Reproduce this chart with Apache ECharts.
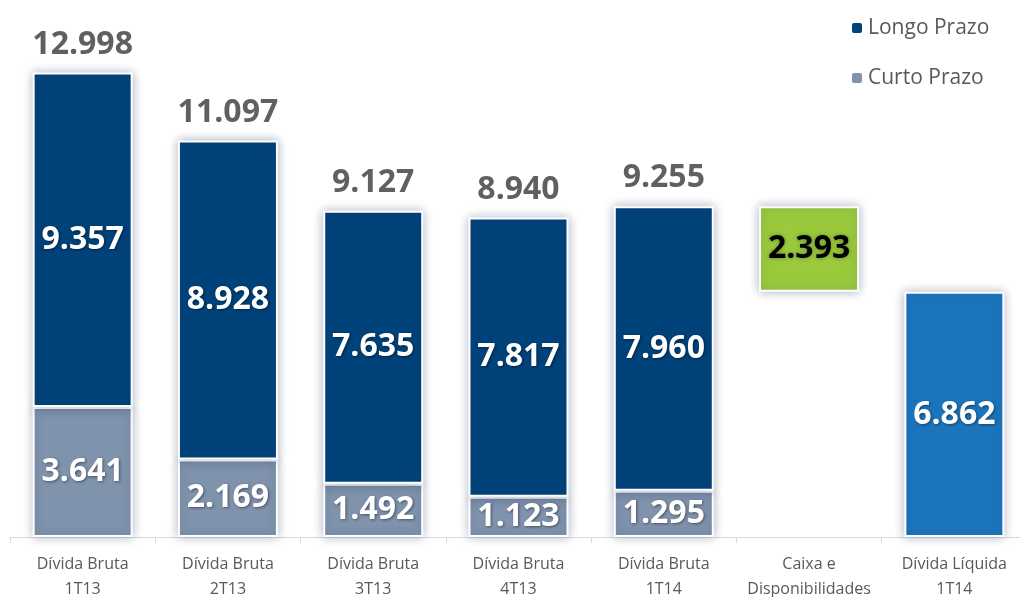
<!DOCTYPE html>
<html>
<head>
<meta charset="utf-8">
<script src="https://cdn.jsdelivr.net/npm/echarts@6/dist/echarts.min.js"></script>
<style>html,body{margin:0;padding:0;background:#fff}#c{width:1020px;height:597px}</style>
</head>
<body>
<div id="c"></div>
<script>
var categories = ['Dívida Bruta\n1T13','Dívida Bruta\n2T13','Dívida Bruta\n3T13','Dívida Bruta\n4T13','Dívida Bruta\n1T14','Caixa e\nDisponibilidades','Dívida Líquida\n1T14'];
var curtoPrazo = [3641, 2169, 1492, 1123, 1295, '-', '-'];
var longoPrazo = [9357, 8928, 7635, 7817, 7960, '-', '-'];
var totals = [12998, 11097, 9127, 8940, 9255, '-', '-'];
var caixaBase = ['-', '-', '-', '-', '-', 6862, '-'];
var caixa = ['-', '-', '-', '-', '-', 2393, '-'];
var dividaLiquida = ['-', '-', '-', '-', '-', '-', 6862];

function fmt(v){ return (v/1000).toFixed(3); }
var FONT = 'Open Sans';
var glow = {borderColor:'#fff', borderWidth:2, shadowBlur:10, shadowColor:'rgba(40,60,100,0.35)'};
var whiteLabel = {show:true, position:'inside', color:'#fff', fontFamily:FONT, fontWeight:'bold', fontSize:32,
  textShadowColor:'rgba(0,0,0,0.45)', textShadowBlur:3, textShadowOffsetX:1, textShadowOffsetY:1,
  formatter:function(p){return fmt(p.value);}};

var chart = echarts.init(document.getElementById('c'));
chart.setOption({
  animation:false,
  grid:{left:10, width:1017, top:1, height:536, containLabel:false, outerBoundsMode:'none'},
  legend:{
    orient:'vertical', left:845, top:11, itemWidth:12, itemHeight:12, itemGap:26,
    data:['Longo Prazo','Curto Prazo'],
    textStyle:{fontFamily:FONT, fontSize:21, color:'#595959', lineHeight:24}
  },
  xAxis:{
    type:'category', data:categories,
    axisLine:{lineStyle:{color:'#d9d9d9', width:1}},
    axisTick:{show:true, length:6, lineStyle:{color:'#d9d9d9'}},
    axisLabel:{fontFamily:FONT, fontSize:16, color:'#595959', lineHeight:25, margin:15, interval:0, hideOverlap:false}
  },
  yAxis:{type:'value', min:0, max:15000, show:false, splitLine:{show:false}},
  series:[
    {name:'Curto Prazo', type:'bar', stack:'a', barWidth:100, data:curtoPrazo,
      itemStyle:Object.assign({color:'#8093ad'}, glow), label:whiteLabel},
    {name:'Longo Prazo', type:'bar', stack:'a', barWidth:100, data:longoPrazo,
      itemStyle:Object.assign({color:'#00427a'}, glow), label:whiteLabel},
    {name:'base', type:'bar', stack:'a', barWidth:100, data:caixaBase, silent:true,
      itemStyle:{color:'transparent'}},
    {name:'Caixa', type:'bar', stack:'a', barWidth:100, data:caixa,
      itemStyle:Object.assign({color:'#9aca3c'}, glow),
      label:{show:true, position:'inside', color:'#000', fontFamily:FONT, fontWeight:'bold', fontSize:32,
        textShadowColor:'rgba(0,0,0,0.35)', textShadowBlur:4,
        formatter:function(p){return fmt(p.value);}}},
    {name:'Líquida', type:'bar', stack:'a', barWidth:100, data:dividaLiquida,
      itemStyle:Object.assign({color:'#1c75bc'}, glow), label:whiteLabel},
    {name:'Total', type:'scatter', data:totals, symbolSize:0, silent:true,
      label:{show:true, position:'top', distance:12, color:'#383838', fontFamily:FONT, fontWeight:'bold', fontSize:32, lineHeight:32,
        formatter:function(p){return fmt(p.value);}}}
  ]
});
</script>
</body>
</html>
